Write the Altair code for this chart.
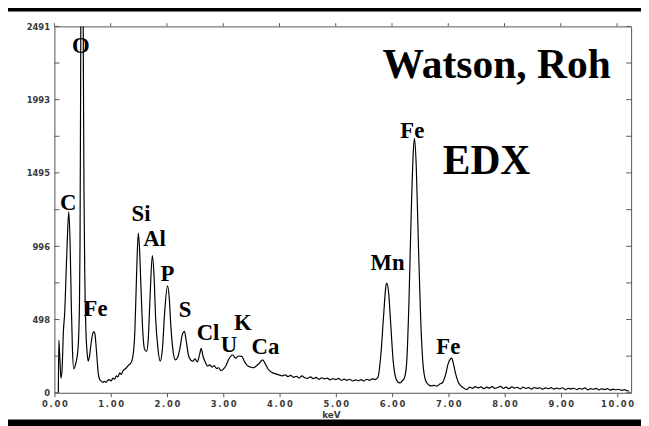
import altair as alt
import pandas as pd

# ---- spectrum (keV, counts) ----
KEV = [
    0.07, 0.078, 0.095, 0.115, 0.135, 0.16, 0.185, 0.205, 0.23, 0.255,
    0.28, 0.30, 0.32, 0.345, 0.38, 0.42, 0.445, 0.455, 0.465, 0.475,
    0.49, 0.505, 0.515, 0.525, 0.54, 0.56, 0.58, 0.60, 0.62, 0.65,
    0.68, 0.70, 0.72, 0.74, 0.76, 0.78, 0.80, 0.83, 0.86, 0.89,
    0.92, 0.95, 0.98, 1.01, 1.04, 1.07, 1.10, 1.13, 1.16, 1.19,
    1.22, 1.25, 1.28, 1.31, 1.34, 1.37, 1.40, 1.43, 1.46, 1.49,
    1.51, 1.54, 1.57, 1.60, 1.64, 1.67, 1.70, 1.74, 1.77, 1.80,
    1.84, 1.88, 1.92, 1.96, 2.01, 2.04, 2.07, 2.11, 2.15, 2.19,
    2.23, 2.27, 2.31, 2.34, 2.38, 2.42, 2.46, 2.50, 2.54, 2.58,
    2.61, 2.64, 2.68, 2.72, 2.76, 2.80, 2.84, 2.88, 2.92, 2.96,
    3.00, 3.05, 3.10, 3.17, 3.22, 3.27, 3.33, 3.38, 3.43, 3.48,
    3.53, 3.58, 3.64, 3.70, 3.75, 3.80, 3.86, 3.92, 3.98, 4.05,
    4.10, 4.15, 4.20, 4.25, 4.30, 4.35, 4.40, 4.45, 4.50, 4.55,
    4.60, 4.65, 4.70, 4.75, 4.80, 4.85, 4.90, 4.95, 5.00, 5.05,
    5.10, 5.15, 5.20, 5.25, 5.30, 5.35, 5.40, 5.45, 5.50, 5.55,
    5.60, 5.65, 5.70, 5.75, 5.80, 5.85, 5.89, 5.91, 5.94, 5.98,
    6.02, 6.06, 6.10, 6.14, 6.18, 6.22, 6.26, 6.30, 6.34, 6.38,
    6.40, 6.43, 6.47, 6.51, 6.55, 6.60, 6.65, 6.70, 6.75, 6.80,
    6.85, 6.90, 6.95, 7.00, 7.04, 7.06, 7.09, 7.13, 7.18, 7.23,
    7.28, 7.33, 7.38, 7.43, 7.48, 7.53, 7.58, 7.63, 7.68, 7.73,
    7.78, 7.83, 7.88, 7.93, 7.98, 8.03, 8.08, 8.13, 8.18, 8.23,
    8.28, 8.33, 8.38, 8.43, 8.48, 8.53, 8.58, 8.63, 8.68, 8.73,
    8.78, 8.83, 8.88, 8.93, 8.98, 9.03, 9.08, 9.13, 9.18, 9.23,
    9.28, 9.33, 9.38, 9.43, 9.48, 9.53, 9.58, 9.63, 9.68, 9.73,
    9.78, 9.83, 9.88, 9.93, 9.98, 10.03, 10.08, 10.13, 10.18, 10.22,
]
COUNTS = [
    0, 358, 250, 100, 150, 420, 560, 780, 1050, 1230,
    1000, 600, 300, 163, 200, 300, 600, 1000, 2000, 3200,
    3800, 3200, 2200, 1400, 800, 420, 280, 215, 240, 330,
    400, 416, 400, 320, 220, 130, 95, 80, 72, 78,
    70, 85, 90, 80, 100, 92, 115, 108, 135, 125,
    150, 160, 170, 185, 195, 210, 260, 420, 800, 1086,
    1000, 700, 420, 300, 282, 380, 650, 933, 800, 500,
    300, 215, 300, 550, 727, 650, 450, 280, 224, 240,
    300, 390, 418, 360, 260, 224, 215, 230, 210, 260,
    302, 250, 210, 181, 190, 175, 185, 165, 170, 150,
    160, 185, 230, 257, 235, 250, 248, 210, 185, 175,
    170, 180, 200, 224, 195, 160, 140, 130, 123, 115,
    122, 110, 118, 105, 112, 100, 115, 102, 98, 108,
    96, 105, 92, 102, 95, 100, 88, 97, 90, 98,
    85, 93, 84, 92, 80, 88, 82, 90, 80, 92,
    85, 95, 90, 105, 250, 520, 720, 745, 680, 450,
    220, 110, 75, 67, 80, 100, 200, 600, 1200, 1650,
    1730, 1550, 1000, 500, 200, 80, 55, 47, 50, 45,
    60, 70, 120, 200, 230, 235, 200, 130, 70, 45,
    30, 22, 38, 30, 42, 33, 40, 28, 38, 32,
    42, 30, 36, 44, 30, 38, 28, 40, 32, 37,
    26, 38, 30, 35, 25, 36, 30, 34, 24, 33,
    28, 35, 25, 32, 27, 34, 22, 30, 26, 31,
    22, 30, 25, 33, 20, 28, 24, 30, 20, 27,
    22, 28, 18, 25, 20, 24, 16, 22, 14, 12,
]

# ---- element labels ----
ELEMENTS = ["O", "C", "Fe", "Si", "Al", "P", "S", "Cl", "U", "K", "Ca", "Mn", "Fe", "Fe"]
ELEM_KEV = [0.47, 0.245, 0.73, 1.54, 1.78, 2.01, 2.32, 2.73, 3.10, 3.35, 3.75, 5.92, 6.36, 7.00]
ELEM_CNT = [2360, 1292, 567, 1215, 1045, 806, 559, 403, 324, 477, 313, 880, 1779, 313]

# ---- big captions ----
CAPTIONS = ["Watson, Roh", "EDX"]
CAP_KEV = [7.86, 7.68]
CAP_CNT = [2137, 1488]

# ---- axes ----
X_TICKS = [0, 1, 2, 3, 4, 5, 6, 7, 8, 9, 10]
Y_LABELS = [0, 498, 996, 1495, 1993, 2491]
Y_TICKS = [0, 249, 498, 747, 996, 1245, 1495, 1744, 1993, 2242, 2491]
X_MAX = 10.25
Y_MAX = 2491

assert len(KEV) == len(COUNTS)

spec = pd.DataFrame({"kev": KEV, "cnt": COUNTS})
elem = pd.DataFrame({"kev": ELEM_KEV, "cnt": ELEM_CNT, "label": ELEMENTS})
caps = pd.DataFrame({"kev": CAP_KEV, "cnt": CAP_CNT, "label": CAPTIONS})
left_ticks = pd.DataFrame({"kev": [0.0] * len(Y_TICKS), "kev2": [0.088] * len(Y_TICKS), "cnt": Y_TICKS})
right_ticks = pd.DataFrame({"kev": [X_MAX - 0.088] * len(Y_TICKS), "kev2": [X_MAX] * len(Y_TICKS), "cnt": Y_TICKS})
top_ticks = pd.DataFrame({"kev": X_TICKS, "cnt": [Y_MAX] * len(X_TICKS), "cnt2": [Y_MAX + 22] * len(X_TICKS)})

AX_COL = "#555555"
LBL_COL = "#3a3a3a"

X = alt.X(
    "kev:Q",
    scale=alt.Scale(domain=[0, X_MAX], nice=False, zero=False),
    axis=alt.Axis(
        values=X_TICKS, title="keV", grid=False, domain=False,
        labelExpr="replace(format(datum.value, '.2f'), regexp('(.)(?=.)', 'g'), '$1\u2009')",
        tickSize=4, tickColor=AX_COL, tickWidth=1, labelFlush=False,
        labelFont="DejaVu Sans", labelFontWeight="bold", labelFontSize=8.5,
        labelColor=LBL_COL, labelPadding=3,
        titleFont="DejaVu Sans", titleFontWeight="bold", titleFontSize=9,
        titleColor=LBL_COL, titleX=280, titleY=22, titleBaseline="middle",
    ),
)
Y = alt.Y(
    "cnt:Q",
    scale=alt.Scale(domain=[0, Y_MAX], nice=False),
    axis=alt.Axis(
        values=Y_LABELS, format="d", title=None, grid=False, domain=False,
        ticks=False, labelFlush=False, labelFont="DejaVu Sans", labelFontWeight="bold",
        labelFontSize=8.5, labelColor=LBL_COL, labelPadding=5,
    ),
)

line = alt.Chart(spec).mark_line(
    color="black", strokeWidth=1.2, clip=True, interpolate="monotone"
).encode(x=X, y=Y)

lt = alt.Chart(left_ticks).mark_rule(color=AX_COL, strokeWidth=1).encode(
    x=X, x2="kev2:Q", y=Y)
rt = alt.Chart(right_ticks).mark_rule(color=AX_COL, strokeWidth=1).encode(
    x=X, x2="kev2:Q", y=Y)
tt = alt.Chart(top_ticks).mark_rule(color=AX_COL, strokeWidth=1).encode(
    x=X, y=Y, y2="cnt2:Q")

elem_text = alt.Chart(elem).mark_text(
    font="Liberation Serif", fontWeight="bold", fontSize=23,
    color="black", align="center", baseline="middle",
).encode(x=X, y=Y, text="label:N")

cap_text = alt.Chart(caps).mark_text(
    font="Liberation Serif", fontWeight="bold", fontSize=42,
    color="black", align="center", baseline="alphabetic",
).encode(x=X, y=Y, text="label:N")

band = alt.Chart(alt.Data(values=[{"a": 1}])).mark_rect(color="black").encode(
    x=alt.value(-60), x2=alt.value(700), y=alt.value(398), y2=alt.value(412))
band_top = alt.Chart(alt.Data(values=[{"a": 1}])).mark_rect(color="black").encode(
    x=alt.value(-60), x2=alt.value(700), y=alt.value(-24), y2=alt.value(-15))

chart = alt.layer(line, lt, rt, tt, elem_text, cap_text, band, band_top).properties(
    width=584, height=371,
    padding={"left": 47, "top": 16, "right": 10, "bottom": 31},
    autosize=alt.AutoSizeParams(type="none"),
    background="white",
).configure_view(stroke=AX_COL, strokeWidth=1)

chart.save("out.html", embed_options={"renderer": "svg", "actions": False})
